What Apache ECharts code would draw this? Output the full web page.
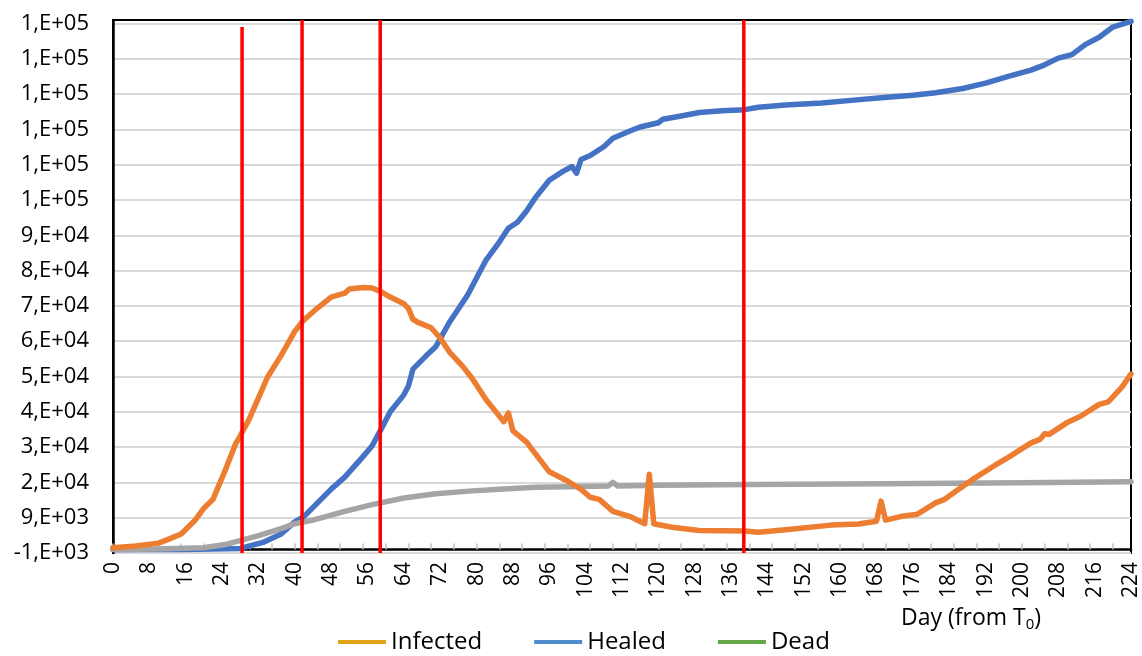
<!DOCTYPE html>
<html>
<head>
<meta charset="utf-8">
<script src="https://cdn.jsdelivr.net/npm/echarts@6/dist/echarts.min.js"></script>
<style>
html,body{margin:0;padding:0;background:#fff;}
#chart{width:1142px;height:656px;}
</style>
</head>
<body>
<div id="chart"></div>
<script>
// ---- Data ----
const infectedDays = [0,5,10,12,15,18,20,22,25,27,28,30,34,37,40,42,45,48,51,52,55,57,59,61,64,65,66,67,70,72,74,77,79,82,84,86,87,88,91,93,96,100,103,105,107,110,114,117,118,119,123,129,139,142,148,158,164,168,169,170,174,177,181,183,186,189,194,197,202,204,205,206,210,213,217,219,222,224];
const infectedValues = [500,1000,1800,2800,4400,8200,11700,14200,23400,30000,32200,37000,48800,55000,61800,65000,68400,71500,72600,73800,74200,74100,73000,71500,69600,68300,65200,64400,62800,59900,56000,51800,48500,42600,39400,36200,38700,33600,30400,27000,22000,19400,17000,14800,14200,10800,9200,7300,21300,7300,6300,5400,5200,4900,5600,6900,7200,8000,13700,8300,9500,10000,13200,14200,17000,19700,23800,26100,30200,31200,32800,32600,36000,37800,41100,41800,46000,49700];

const healedDays = [0,15,22,28,33,37,40,42,45,48,51,55,57,59,61,64,65,66,69,71,74,78,82,85,87,89,91,93,96,99,101,102,103,105,108,110,114,116,120,121,125,129,134,139,142,148,156,163,169,176,181,187,192,197,202,205,208,211,214,217,220,224];
const healedValues = [0,0,100,300,2000,4400,7800,9300,13200,17100,20500,26300,29300,34100,39000,43800,46300,51100,55000,57400,64300,72000,81800,87100,91000,92700,95900,99800,104600,107100,108500,106600,110500,111600,114100,116500,118700,119700,120900,121900,122800,123800,124300,124600,125300,125900,126500,127300,128000,128700,129400,130600,132100,134000,135800,137300,139200,140200,143100,145100,148000,149600];

const deadDays = [0,10,20,25,28,32,37,40,44,51,57,64,71,79,86,93,100,109,110,111,120,140,170,200,224];
const deadValues = [0,100,500,1500,2500,3900,5900,7300,8300,10800,12700,14600,15800,16600,17100,17600,17800,18000,19000,18000,18200,18400,18600,18900,19200];

const markerDays = [28.4, 41.6, 58.8, 138.8];
const markerTops = [148000, 150000, 150000, 150000];

const seriesNames = ['Infected', 'Healed', 'Dead'];
const yTickValues = [-1000, 9000, 19000, 29000, 39000, 49000, 59000, 69000, 79000, 89000, 99000, 109000, 119000, 129000, 139000, 149000];
const xTickValues = [0,5,10,15,20,25,30,35,40,45,50,55,60,65,70,75,80,85,90,95,100,105,110,115,120,125,130,135,140,145,150,155,160,165,170,175,180,185,190,195,200,205,210,215,220];

const zip = (a, b) => a.map((d, i) => [d, b[i]]);

function sciLabel(v) {
  const s = Number(v).toExponential(0); // e.g. "-1e+3"
  const parts = s.split('e');
  const sign = parts[1][0];
  const exp = parts[1].slice(1).padStart(2, '0');
  return parts[0] + ',E' + sign + exp;
}

const FONT = 'Open Sans';
const chart = echarts.init(document.getElementById('chart'), null, {renderer: 'canvas'});

const option = {
  animation: false,
  backgroundColor: '#ffffff',
  textStyle: {fontFamily: FONT},
  title: {
    text: '{a|Day (from T}{s|0}{a|)}',
    left: 896,
    top: 600,
    textStyle: {
      fontWeight: 'normal',
      rich: {
        a: {fontFamily: FONT, fontSize: 23, fontWeight: 'normal', color: '#000'},
        s: {fontFamily: FONT, fontSize: 15, fontWeight: 'normal', color: '#000', padding: [12, 0, 0, 0]}
      }
    }
  },
  legend: {
    left: 333,
    top: 625,
    itemWidth: 48,
    itemHeight: 4,
    itemGap: 52,
    textStyle: {fontFamily: FONT, fontSize: 24, color: '#000'},
    data: [
      {name: 'Infected', itemStyle: {color: '#E2A317'}, icon: 'rect'},
      {name: 'Healed', itemStyle: {color: '#4F8CC9'}, icon: 'rect'},
      {name: 'Dead', itemStyle: {color: '#67A54A'}, icon: 'rect'}
    ]
  },
  grid: {
    left: 113,
    right: 11,
    top: 20,
    bottom: 103,
    show: true,
    borderColor: '#000',
    borderWidth: 2,
    containLabel: false
  },
  xAxis: {
    type: 'value',
    min: 0,
    max: 224,
    interval: 8,
    axisLine: {show: true, lineStyle: {color: '#000', width: 2.5}},
    axisTick: {show: true, inside: true, length: 6, customValues: xTickValues, lineStyle: {color: '#BFBFBF', width: 1.5}},
    splitLine: {show: false},
    axisLabel: {rotate: 90, margin: 9, fontSize: 21, color: '#000', fontFamily: FONT}
  },
  yAxis: {
    type: 'value',
    min: -1000,
    max: 150000,
    axisLine: {show: true, lineStyle: {color: '#000', width: 2.5}},
    axisTick: {show: false, customValues: yTickValues},
    splitLine: {show: true, lineStyle: {color: '#D9D9D9', width: 2}},
    axisLabel: {customValues: yTickValues, formatter: sciLabel, margin: 24, fontSize: 22, color: '#000', fontFamily: FONT}
  },
  series: [
    {
      name: seriesNames[0], type: 'line', data: zip(infectedDays, infectedValues),
      showSymbol: false, symbol: 'none', z: 4,
      lineStyle: {color: '#ED7D31', width: 5.5, join: 'round', cap: 'round'}, itemStyle: {color: '#E2A317'}
    },
    {
      name: seriesNames[1], type: 'line', data: zip(healedDays, healedValues),
      showSymbol: false, symbol: 'none', z: 2,
      lineStyle: {color: '#4472C4', width: 5.5, join: 'round', cap: 'round'}, itemStyle: {color: '#4F8CC9'}
    },
    {
      name: seriesNames[2], type: 'line', data: zip(deadDays, deadValues),
      showSymbol: false, symbol: 'none', z: 3,
      lineStyle: {color: '#A5A5A5', width: 5.5, join: 'round', cap: 'round'}, itemStyle: {color: '#67A54A'}
    }
  ].concat(markerDays.map((d, i) => ({
    type: 'line', z: 6, symbol: 'none', showSymbol: false,
    data: [[d, -1000], [d, markerTops[i]]],
    lineStyle: {color: '#FF0000', width: 3.5}
  })))
};
chart.setOption(option);
</script>
</body>
</html>
